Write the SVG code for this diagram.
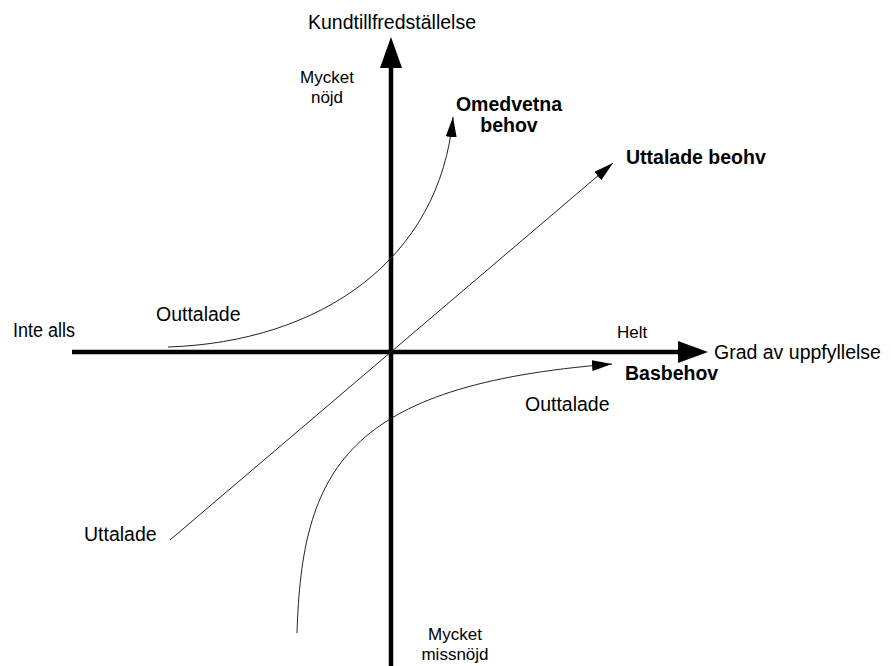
<svg xmlns="http://www.w3.org/2000/svg" width="891" height="666" viewBox="0 0 891 666">
<style>
text{font-family:"Liberation Sans",Arial,sans-serif;fill:#000}
.lg{font-size:19.5px}
.sm{font-size:17px}
.b{font-weight:bold}
.axis{stroke:#000;stroke-width:4.5;fill:none}
.thin{stroke:#222;stroke-width:1;fill:none}
</style>
<defs>
<marker id="ah" markerUnits="userSpaceOnUse" markerWidth="20" markerHeight="11" refX="20" refY="5.5" orient="auto" viewBox="0 0 20 11">
<path d="M0,0 L20,5.5 L0,11 z" fill="#000"/>
</marker>
</defs>
<rect width="891" height="666" fill="#fff"/>
<g id="axes">
<line class="axis" x1="391" y1="666" x2="391" y2="66"/>
<polygon points="380,68 391,37 402,68" fill="#000"/>
<line class="axis" x1="72" y1="352" x2="680" y2="352"/>
<polygon points="678,341 708,352 678,363" fill="#000"/>
</g>
<g id="connectors">
<path class="thin" d="M168,347 C320,342 440,260 453,117" marker-end="url(#ah)"/>
<path class="thin" d="M170,540 L613,163" marker-end="url(#ah)"/>
<path class="thin" d="M297,633 C302,470 345,385 612,364" marker-end="url(#ah)"/>
</g>
<g id="labels">
<text class="lg" x="392" y="29" text-anchor="middle">Kundtillfredställelse</text>
<text class="sm" x="327" y="83" text-anchor="middle">Mycket</text>
<text class="sm" x="327" y="103" text-anchor="middle">nöjd</text>
<text class="lg b" x="509" y="111" text-anchor="middle">Omedvetna</text>
<text class="lg b" x="509" y="132" text-anchor="middle">behov</text>
<text class="lg b" x="626" y="164">Uttalade beohv</text>
<text class="lg" x="156" y="321">Outtalade</text>
<text class="lg" x="13" y="337" textLength="62" lengthAdjust="spacingAndGlyphs">Inte alls</text>
<text class="sm" x="617" y="338">Helt</text>
<text class="lg" x="714" y="359">Grad av uppfyllelse</text>
<text class="lg b" x="625" y="380">Basbehov</text>
<text class="lg" x="525" y="411">Outtalade</text>
<text class="lg" x="84" y="541">Uttalade</text>
<text class="sm" x="455" y="640" text-anchor="middle">Mycket</text>
<text class="sm" x="455" y="660" text-anchor="middle">missnöjd</text>
</g>
</svg>
